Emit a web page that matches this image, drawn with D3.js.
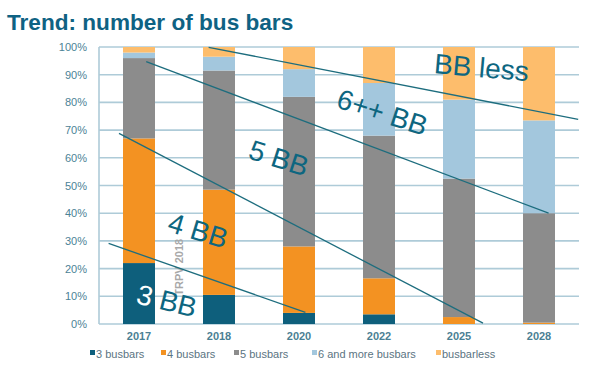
<!DOCTYPE html>
<html>
<head>
    <meta charset="utf-8">
    <title>Trend: number of bus bars</title>
    <script src="https://d3js.org/d3.v7.min.js"></script>
    <style>
        body { margin: 0; background: #fff; }
        svg { display: block; font-family: "Liberation Sans", Arial, sans-serif; }
    </style>
</head>
<body>
<svg id="chart"></svg>
<script>
    // data (percent of each year)
    var years = ["2017", "2018", "2020", "2022", "2025", "2028"];
    var bb3 = [22, 10.5, 4, 3.5, 0, 0];
    var bb4 = [45, 38, 24, 13, 2.5, 0.5];
    var bb5 = [29, 43, 54, 51.5, 50, 39.5];
    var bb6 = [2, 5, 10, 19, 28.5, 33.5];
    var bbless = [2, 3.5, 8, 13, 19, 26.5];
    var seriesNames = ["3 busbars", "4 busbars", "5 busbars", "6 and more busbars", "busbarless"];
    var seriesColors = ["#0e5f7c", "#f39222", "#8c8c8c", "#a3c7dd", "#fdbd6c"];
    var yTicks = [0, 10, 20, 30, 40, 50, 60, 70, 80, 90, 100];

    // trend lines, [bar index, percent] at each end
    var trend3 = [[-0.38, 29.1], [2.08, 4.2]];
    var trend4 = [[-0.25, 68.8], [4.3, 0.3]];
    var trend5 = [[0.09, 94.7], [5.12, 40]];
    var trend6 = [[0.87, 99.9], [5.49, 73.9]];
    // labels: text, bar index, percent, angle
    var labelText = ["3 BB", "4 BB", "5 BB", "6++ BB", "BB less"];
    var labelIdx = [-0.05, 0.34, 1.35, 2.45, 3.68];
    var labelPct = [7.6, 33.6, 59.9, 78.3, 90.6];
    var labelAngle = [14, 17, 18, 18, 5];

    var width = 600, height = 365;
    var plotLeft = 99, plotRight = 579, plotTop = 47, plotBottom = 324;
    var legendX = [90, 161, 234, 312, 436];

    var svg = d3.select("#chart").attr("width", width).attr("height", height);

    var x = d3.scaleBand().domain(years).range([plotLeft, plotRight]).paddingInner(0.6).paddingOuter(0.3);
    var xi = d3.scaleLinear().domain([0, years.length - 1])
        .range([x(years[0]) + x.bandwidth() / 2, x(years[years.length - 1]) + x.bandwidth() / 2]);
    var y = d3.scaleLinear().domain([0, 100]).range([plotBottom, plotTop]);

    svg.append("text")
        .attr("x", 7).attr("y", 30)
        .attr("font-size", 22.6).attr("font-weight", "bold")
        .attr("fill", "#0f6283")
        .text("Trend: number of bus bars");

    // grid
    svg.append("g").selectAll("line")
        .data(yTicks).enter().append("line")
        .attr("x1", plotLeft).attr("x2", plotRight)
        .attr("y1", function(d) { return y(d); })
        .attr("y2", function(d) { return y(d); })
        .attr("stroke", "#aecbd8").attr("stroke-width", 1.6);
    svg.append("line")
        .attr("x1", plotLeft).attr("x2", plotLeft).attr("y1", y(100)).attr("y2", y(0))
        .attr("stroke", "#aecbd8").attr("stroke-width", 1.6);

    var yAxis = svg.append("g")
        .attr("transform", "translate(" + (plotLeft - 9) + ",0)")
        .call(d3.axisLeft(y).tickValues(yTicks).tickSize(0).tickFormat(function(d) { return d + "%"; }));
    yAxis.select(".domain").remove();
    yAxis.selectAll("text").attr("font-size", 11).attr("fill", "#4b8296")
        .attr("font-family", "Liberation Sans, Arial, sans-serif").attr("dx", 0);

    var xAxis = svg.append("g")
        .attr("transform", "translate(0," + (plotBottom + 5) + ")")
        .call(d3.axisBottom(x).tickSize(0));
    xAxis.select(".domain").remove();
    xAxis.selectAll("text").attr("font-size", 11).attr("font-weight", "bold").attr("fill", "#4b7f94")
        .attr("font-family", "Liberation Sans, Arial, sans-serif");

    // stacked bars
    var table = years.map(function(yr, i) {
        return { year: yr, s0: bb3[i], s1: bb4[i], s2: bb5[i], s3: bb6[i], s4: bbless[i] };
    });
    var stack = d3.stack().keys(["s0", "s1", "s2", "s3", "s4"]);
    var layers = stack(table);

    svg.append("g").selectAll("g")
        .data(layers).enter().append("g")
        .attr("fill", function(d, i) { return seriesColors[i]; })
        .selectAll("rect")
        .data(function(d) { return d; }).enter().append("rect")
        .attr("x", function(d) { return x(d.data.year); })
        .attr("width", x.bandwidth())
        .attr("y", function(d) { return y(d[1]); })
        .attr("height", function(d) { return y(d[0]) - y(d[1]); });

    // watermark
    svg.append("text")
        .attr("transform", "translate(" + (xi(0.55)) + "," + y(20.5) + ") rotate(-90)")
        .attr("text-anchor", "middle")
        .attr("font-size", 11).attr("font-weight", "bold")
        .attr("fill", "#a8a8a8")
        .text("TRPV 2018");

    // trend lines
    var line = d3.line()
        .x(function(d) { return xi(d[0]); })
        .y(function(d) { return y(d[1]); });
    svg.append("g").selectAll("path")
        .data([trend3, trend4, trend5, trend6]).enter().append("path")
        .attr("d", line)
        .attr("fill", "none")
        .attr("stroke", "#1d6d7e")
        .attr("stroke-width", 1.3);

    // labels
    var labels = svg.append("g").selectAll("text")
        .data(labelText).enter().append("text")
        .attr("transform", function(d, i) {
            return "translate(" + xi(labelIdx[i]) + "," + y(labelPct[i]) + ") rotate(" + labelAngle[i] + ")";
        })
        .attr("font-size", 28)
        .attr("fill", "#0d6680");
    labels.each(function(d, i) {
        var t = d3.select(this);
        if (i === 0) {
            t.append("tspan").attr("fill", "#ffffff").text("3");
            t.append("tspan").text(" BB");
        } else {
            t.text(d);
        }
    });

    // legend
    var legend = svg.append("g").attr("transform", "translate(0,354)");
    seriesNames.forEach(function(name, i) {
        legend.append("rect")
            .attr("x", legendX[i]).attr("y", -4).attr("width", 5).attr("height", 5)
            .attr("fill", seriesColors[i]);
        legend.append("text")
            .attr("x", legendX[i] + 6).attr("y", 4)
            .attr("font-size", 11).attr("fill", "#5b7482")
            .text(name);
    });
</script>
</body>
</html>
